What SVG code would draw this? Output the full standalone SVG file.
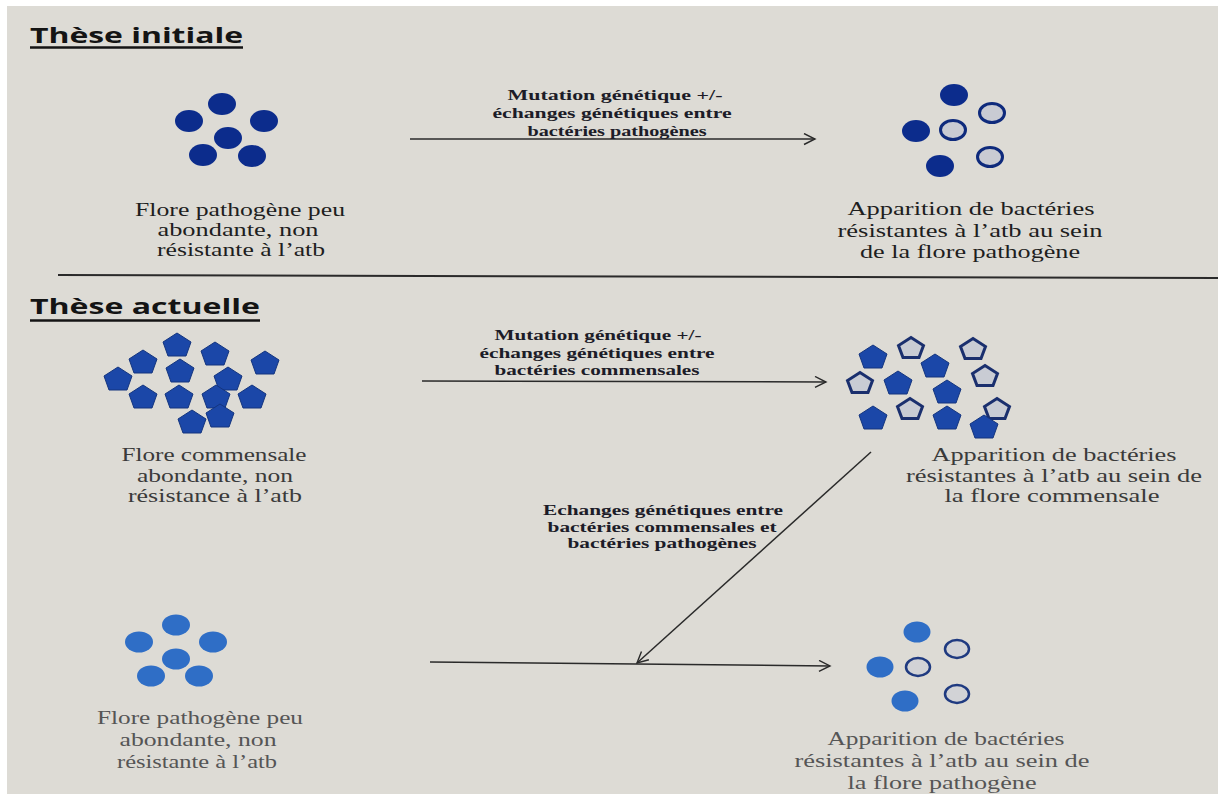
<svg xmlns="http://www.w3.org/2000/svg" xmlns:xlink="http://www.w3.org/1999/xlink" width="1218" height="794" viewBox="0 0 1218 794">
<style>
.title{font-family:"Open Sans","Liberation Sans",sans-serif;font-weight:bold;font-size:22px;fill:#141414}
.t{font-family:"Liberation Serif",serif;font-size:19px;text-anchor:middle}
.t1{fill:#1e1e1e}
.t2{fill:#3a3a3a}
.t3{fill:#555}
.lbl{font-family:"Liberation Serif",serif;font-weight:bold;font-size:14px;text-anchor:middle;fill:#1c1c28}
.c1{fill:#0c2c8c}
.o1{fill:#c9cbd3;stroke:#0e2a7c;stroke-width:3}
.p1{fill:#1b47a8;stroke:#14357f;stroke-width:1}
.po{fill:#c9ccd4;stroke:#1a2f6e;stroke-width:3}
.c3{fill:#2f6ec6}
.o3{fill:#d2d3d6;stroke:#1f3a80;stroke-width:2.5}
.conn{stroke:#2a2a2a;stroke-width:1.5;fill:none}
.rule{stroke:#2a2a2a;stroke-width:2;fill:none}
</style>
<defs>
<marker id="arr" markerWidth="14" markerHeight="14" refX="12" refY="6" orient="auto" markerUnits="userSpaceOnUse">
<path d="M1,0.5 L12,6 L1,11.5" fill="none" stroke="#2a2a2a" stroke-width="1.4"/>
</marker>
<polygon id="pent" points="0,-12 14,-3 9,11 -9,11 -14,-3"/>
<polygon id="pento" points="0,-10.5 12.5,-2.5 8,9.5 -8,9.5 -12.5,-2.5"/>
</defs>
<rect x="0" y="0" width="1218" height="794" fill="#ffffff"/>
<rect x="7" y="6" width="1211" height="788" fill="#dddbd5"/>

<g id="title-initiale">
<text class="title" x="30" y="43" textLength="213" lengthAdjust="spacingAndGlyphs">Thèse initiale</text>
<line x1="30" y1="47.5" x2="243" y2="47.5" stroke="#141414" stroke-width="2.5"/>
</g>
<line class="rule" x1="58" y1="275" x2="1218" y2="278"/>
<g id="title-actuelle">
<text class="title" x="30" y="314" textLength="230" lengthAdjust="spacingAndGlyphs">Thèse actuelle</text>
<line x1="30" y1="320.5" x2="260" y2="320.5" stroke="#141414" stroke-width="2.5"/>
</g>

<g id="node-initial-flore">
<ellipse class="c1" cx="222" cy="104" rx="14" ry="11"/>
<ellipse class="c1" cx="189" cy="121" rx="14" ry="11"/>
<ellipse class="c1" cx="264" cy="121" rx="14" ry="11"/>
<ellipse class="c1" cx="228" cy="138" rx="14" ry="11"/>
<ellipse class="c1" cx="203" cy="155" rx="14" ry="11"/>
<ellipse class="c1" cx="252" cy="156" rx="14" ry="11"/>
<text class="t t1" x="240" y="216" textLength="210" lengthAdjust="spacingAndGlyphs">Flore pathogène peu</text>
<text class="t t1" x="238" y="236" textLength="161" lengthAdjust="spacingAndGlyphs">abondante, non</text>
<text class="t t1" x="241" y="256" textLength="168" lengthAdjust="spacingAndGlyphs">résistante à l’atb</text>
</g>

<g id="node-initial-resist">
<ellipse class="c1" cx="954" cy="95" rx="14" ry="11"/>
<ellipse class="c1" cx="916" cy="131" rx="14" ry="11"/>
<ellipse class="c1" cx="940" cy="166" rx="14" ry="11"/>
<ellipse class="o1" cx="992" cy="113" rx="12.5" ry="9.5"/>
<ellipse class="o1" cx="953" cy="130" rx="12.5" ry="9.5"/>
<ellipse class="o1" cx="990" cy="157" rx="12.5" ry="9.5"/>
<text class="t t1" x="971" y="215" textLength="247" lengthAdjust="spacingAndGlyphs">Apparition de bactéries</text>
<text class="t t1" x="970" y="237" textLength="265" lengthAdjust="spacingAndGlyphs">résistantes à l’atb au sein</text>
<text class="t t1" x="970" y="258" textLength="220" lengthAdjust="spacingAndGlyphs">de la flore pathogène</text>
</g>

<g id="node-commensal">
<use xlink:href="#pent" class="p1" x="177" y="345"/>
<use xlink:href="#pent" class="p1" x="143" y="362"/>
<use xlink:href="#pent" class="p1" x="215" y="354"/>
<use xlink:href="#pent" class="p1" x="265" y="363"/>
<use xlink:href="#pent" class="p1" x="118" y="379"/>
<use xlink:href="#pent" class="p1" x="180" y="371"/>
<use xlink:href="#pent" class="p1" x="228" y="379"/>
<use xlink:href="#pent" class="p1" x="143" y="397"/>
<use xlink:href="#pent" class="p1" x="179" y="397"/>
<use xlink:href="#pent" class="p1" x="216" y="397"/>
<use xlink:href="#pent" class="p1" x="252" y="397"/>
<use xlink:href="#pent" class="p1" x="192" y="422"/>
<use xlink:href="#pent" class="p1" x="220" y="416"/>
<text class="t t2" x="214" y="461" textLength="185" lengthAdjust="spacingAndGlyphs">Flore commensale</text>
<text class="t t2" x="215" y="482" textLength="156" lengthAdjust="spacingAndGlyphs">abondante, non</text>
<text class="t t2" x="215" y="502" textLength="174" lengthAdjust="spacingAndGlyphs">résistance à l’atb</text>
</g>

<g id="node-commensal-resist">
<use xlink:href="#pento" class="po" x="911" y="348"/>
<use xlink:href="#pento" class="po" x="973" y="349"/>
<use xlink:href="#pento" class="po" x="860" y="383"/>
<use xlink:href="#pento" class="po" x="985" y="376"/>
<use xlink:href="#pento" class="po" x="910" y="409"/>
<use xlink:href="#pento" class="po" x="997" y="409"/>
<use xlink:href="#pent" class="p1" x="873" y="357"/>
<use xlink:href="#pent" class="p1" x="935" y="366"/>
<use xlink:href="#pent" class="p1" x="898" y="383"/>
<use xlink:href="#pent" class="p1" x="947" y="392"/>
<use xlink:href="#pent" class="p1" x="873" y="418"/>
<use xlink:href="#pent" class="p1" x="947" y="418"/>
<use xlink:href="#pent" class="p1" x="984" y="427"/>
<text class="t t2" x="1054" y="461" textLength="245" lengthAdjust="spacingAndGlyphs">Apparition de bactéries</text>
<text class="t t2" x="1054" y="482" textLength="296" lengthAdjust="spacingAndGlyphs">résistantes à l’atb au sein de</text>
<text class="t t2" x="1052" y="502" textLength="215" lengthAdjust="spacingAndGlyphs">la flore commensale</text>
</g>

<g id="node-pathogen-actuel">
<ellipse class="c3" cx="176" cy="625" rx="14" ry="10.5"/>
<ellipse class="c3" cx="139" cy="642" rx="14" ry="10.5"/>
<ellipse class="c3" cx="213" cy="642" rx="14" ry="10.5"/>
<ellipse class="c3" cx="176" cy="659" rx="14" ry="10.5"/>
<ellipse class="c3" cx="151" cy="676" rx="14" ry="10.5"/>
<ellipse class="c3" cx="199" cy="676" rx="14" ry="10.5"/>
<text class="t t3" x="200" y="724" textLength="206" lengthAdjust="spacingAndGlyphs">Flore pathogène peu</text>
<text class="t t3" x="198" y="746" textLength="157" lengthAdjust="spacingAndGlyphs">abondante, non</text>
<text class="t t3" x="197" y="768" textLength="160" lengthAdjust="spacingAndGlyphs">résistante à l’atb</text>
</g>

<g id="node-pathogen-resist">
<ellipse class="c3" cx="917" cy="632" rx="13.5" ry="10.5"/>
<ellipse class="c3" cx="880" cy="667" rx="13.5" ry="10.5"/>
<ellipse class="c3" cx="905" cy="701" rx="13.5" ry="10.5"/>
<ellipse class="o3" cx="957" cy="649" rx="12" ry="9"/>
<ellipse class="o3" cx="918" cy="667" rx="12" ry="9"/>
<ellipse class="o3" cx="957" cy="694" rx="12" ry="9"/>
<text class="t t3" x="946" y="745" textLength="237" lengthAdjust="spacingAndGlyphs">Apparition de bactéries</text>
<text class="t t3" x="942" y="767" textLength="295" lengthAdjust="spacingAndGlyphs">résistantes à l’atb au sein de</text>
<text class="t t3" x="942" y="789" textLength="189" lengthAdjust="spacingAndGlyphs">la flore pathogène</text>
</g>

<g id="connectors">
<line class="conn" x1="410" y1="139" x2="815" y2="139" marker-end="url(#arr)"/>
<text class="lbl" x="615" y="100" textLength="215" lengthAdjust="spacingAndGlyphs">Mutation génétique +/-</text>
<text class="lbl" x="612" y="118" textLength="239" lengthAdjust="spacingAndGlyphs">échanges génétiques entre</text>
<text class="lbl" x="617" y="136" textLength="179" lengthAdjust="spacingAndGlyphs">bactéries pathogènes</text>

<line class="conn" x1="422" y1="381" x2="826" y2="382" marker-end="url(#arr)"/>
<text class="lbl" x="598" y="340" textLength="207" lengthAdjust="spacingAndGlyphs">Mutation génétique +/-</text>
<text class="lbl" x="597" y="358" textLength="235" lengthAdjust="spacingAndGlyphs">échanges génétiques entre</text>
<text class="lbl" x="597" y="375" textLength="205" lengthAdjust="spacingAndGlyphs">bactéries commensales</text>

<line class="conn" x1="430" y1="662" x2="830" y2="666" marker-end="url(#arr)"/>
<line class="conn" x1="871" y1="452" x2="637" y2="663" marker-end="url(#arr)"/>
<text class="lbl" x="663" y="515" textLength="240" lengthAdjust="spacingAndGlyphs">Echanges génétiques entre</text>
<text class="lbl" x="662" y="532" textLength="229" lengthAdjust="spacingAndGlyphs">bactéries commensales et</text>
<text class="lbl" x="662" y="548" textLength="189" lengthAdjust="spacingAndGlyphs">bactéries pathogènes</text>
</g>
</svg>
